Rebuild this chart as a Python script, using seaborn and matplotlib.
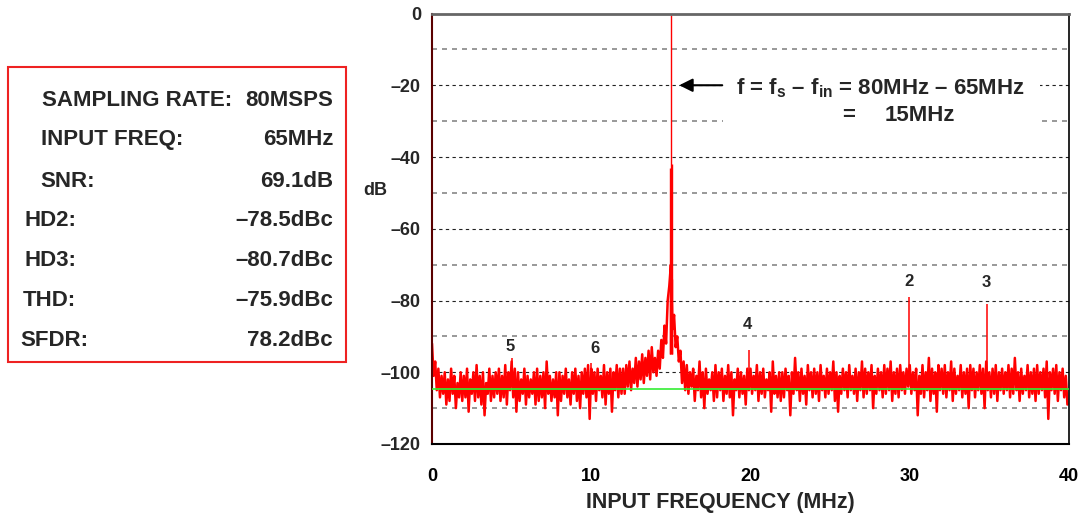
import matplotlib
matplotlib.use('Agg')
import matplotlib.pyplot as plt
from matplotlib import font_manager
from matplotlib.patches import Rectangle
import numpy as np
import pandas as pd
import seaborn as sns

# noise floor: one peak and one dip per 0.2 MHz bin (dB)
floor_peaks = [
    -92, -97, -99, -101, -100, -102, -99, -101, -103, -100,     # 0-2 MHz
    -101, -99, -102, -100, -98, -101, -100, -103, -99, -101,    # 2-4
    -100, -99, -101, -98, -100, -97, -99, -100, -102, -99,      # 4-6
    -101, -102, -100, -99, -101, -100, -97, -101, -102, -100,   # 6-8
    -100, -101, -99, -102, -100, -99, -101, -100, -99, -98,     # 8-10
    -99, -100, -99, -101, -98, -100, -99, -100, -98, -99,       # 10-12
    -99, -98, -97, -99, -96, -97, -95, -96, -94, -93,           # 12-14
    -96, -94, -91, -87, -80, -70, -84, -90, -94, -97,           # 14-16
    -98, -100, -99, -101, -97, -100, -99, -102, -100, -98,      # 16-18
    -100, -99, -101, -98, -100, -102, -99, -100, -101, -99,     # 18-20
    -99, -101, -98, -100, -99, -102, -100, -97, -101, -100,     # 20-22
    -100, -99, -101, -100, -96, -100, -99, -101, -98, -100,     # 22-24
    -99, -100, -98, -101, -99, -100, -97, -100, -101, -99,      # 24-26
    -100, -98, -101, -99, -100, -97, -99, -100, -98, -101,      # 26-28
    -99, -100, -98, -99, -97, -100, -99, -98, -100, -99,        # 28-30
    -98, -100, -99, -101, -98, -100, -96, -99, -100, -98,       # 30-32
    -99, -98, -100, -97, -99, -101, -98, -100, -99, -98,        # 32-34
    -99, -100, -98, -99, -97, -100, -99, -98, -100, -99,        # 34-36
    -100, -98, -99, -96, -100, -99, -101, -98, -100, -99,       # 36-38
    -98, -100, -99, -97, -100, -99, -98, -100, -99, -101,       # 38-40
]
floor_dips = [
    -101, -105, -107, -106, -109, -108, -106, -110, -107, -108,
    -107, -111, -106, -108, -107, -109, -112, -106, -108, -107,
    -106, -108, -107, -109, -105, -107, -111, -108, -106, -109,
    -107, -106, -109, -108, -107, -110, -106, -108, -107, -112,
    -108, -106, -107, -109, -106, -108, -110, -106, -107, -113,
    -106, -108, -105, -107, -109, -106, -111, -105, -107, -106,
    -106, -104, -105, -103, -104, -102, -103, -101, -102, -100,
    -101, -99, -96, -92, -76, -88, -93, -97, -103, -105,
    -106, -104, -108, -105, -107, -110, -106, -105, -108, -107,
    -105, -108, -106, -107, -112, -105, -107, -106, -109, -105,
    -106, -105, -108, -106, -107, -105, -111, -106, -107, -108,
    -107, -105, -112, -106, -105, -108, -106, -109, -105, -107,
    -106, -108, -105, -107, -106, -105, -108, -111, -106, -105,
    -107, -105, -106, -108, -105, -107, -106, -105, -110, -106,
    -105, -107, -106, -105, -108, -106, -107, -105, -106, -104,
    -106, -105, -112, -106, -107, -105, -108, -106, -111, -105,
    -106, -107, -105, -108, -106, -105, -107, -106, -110, -105,
    -107, -105, -106, -110, -105, -107, -106, -108, -105, -106,
    -105, -107, -106, -105, -108, -106, -105, -107, -106, -108,
    -106, -105, -107, -113, -105, -106, -108, -105, -107, -109,
]
bin_mhz = 0.2

# fundamental (aliased to 15 MHz) and its neighbouring bins
carrier_freq = [14.93, 14.96, 15.0, 15.04, 15.07]
carrier_db = [-72, -43, -0.5, -42, -74]

# DC and harmonics
spur_freq = [0.0, 5.05, 10.0, 19.9, 29.97, 34.85]
spur_db = [0.0, -96.0, -97.4, -93.8, -78.9, -81.1]
spur_names = ['', '5', '6', '4', '2', '3']
spur_label_pos = [None, (4.9, -92.9), (10.24, -93.5), (19.78, -86.6),
                  (29.94, -74.6), (34.78, -75.1)]
avg_floor = -104.7

xticks = [0, 10, 20, 30, 40]
yticks = [0, -20, -40, -60, -80, -100, -120]
ytick_labels = ['0', '–20', '–40', '–60', '–80', '–100', '–120']

stats_labels = ['SAMPLING RATE:', 'INPUT FREQ:', 'SNR:', 'HD2:', 'HD3:',
                'THD:', 'SFDR:']
stats_values = ['80MSPS', '65MHz', '69.1dB', '–78.5dBc', '–80.7dBc',
                '–75.9dBc', '78.2dBc']

if __name__ == '__main__':
    sns.set_style('white')
    plt.rcParams['font.family'] = ['Liberation Sans', 'DejaVu Sans']
    plt.rcParams['font.weight'] = 'bold'
    plt.rcParams['mathtext.fontset'] = 'custom'
    plt.rcParams['mathtext.rm'] = 'Liberation Sans:bold'
    plt.rcParams['mathtext.bf'] = 'Liberation Sans:bold'
    plt.rcParams['mathtext.it'] = 'Liberation Sans:bold'

    names = {f.name for f in font_manager.fontManager.ttflist}
    narrow = 'Liberation Sans Narrow' if 'Liberation Sans Narrow' in names \
        else 'Liberation Sans'

    # interleave peaks and dips into one trace
    n = len(floor_peaks)
    freq = np.empty(2 * n)
    db = np.empty(2 * n)
    freq[0::2] = np.arange(n) * bin_mhz
    freq[1::2] = np.arange(n) * bin_mhz + bin_mhz / 2
    db[0::2] = floor_peaks
    db[1::2] = floor_dips
    df = pd.DataFrame({'freq': freq, 'db': db})

    W, H = 1080, 514
    fig = plt.figure(figsize=(W / 100, H / 100), dpi=100)
    ax = fig.add_axes([432 / W, 1 - 444 / H, (1069 - 432) / W, (444 - 13.5) / H])

    # grid: dashed every 10 dB
    for y in range(-110, 0, 10):
        major = y % 20 == 0
        ax.axhline(y, color='#222222' if major else '#888888',
                   lw=0.8 if major else 1.2, ls=(0, (3, 3)), zorder=0.5)

    sns.lineplot(data=df, x='freq', y='db', ax=ax, color='#ff0000',
                 linewidth=1.8, estimator=None, sort=False, zorder=2)
    ax.vlines(spur_freq, -103, spur_db, color='#ff0000', lw=1.1, zorder=2)
    ax.vlines(carrier_freq, -95, carrier_db, color='#ff0000', lw=1.0, zorder=2)
    ax.axhline(avg_floor, color='#33ee33', lw=1.2, zorder=5)

    for name, pos in zip(spur_names, spur_label_pos):
        if name:
            ax.text(pos[0], pos[1], name, ha='center', va='center',
                    fontsize=12, fontweight='bold')

    # annotation with white box over the grid
    ax.add_patch(Rectangle((18.25, -33.5), 19.95, 18, facecolor='white',
                           edgecolor='none', zorder=1))
    ax.annotate('', xy=(15.35, -20), xytext=(18.4, -20),
                arrowprops=dict(arrowstyle='-|>', color='black', lw=1.5,
                                mutation_scale=20), zorder=4)
    ax.text(19.1, -20.8, r'f = f$_{\mathrm{s}}$ – f$_{\mathrm{in}}$ = 80MHz – 65MHz',
            ha='left', va='center', fontsize=16, fontweight='bold', zorder=4)
    ax.text(25.75, -28.3, '=', ha='left', va='center', fontsize=16,
            fontweight='bold', zorder=4)
    ax.text(28.45, -28.3, '15MHz', ha='left', va='center', fontsize=16,
            fontweight='bold', zorder=4)

    ax.set_xlim(0, 40)
    ax.set_ylim(-120, 0)
    ax.set_xticks(xticks)
    ax.set_xticklabels([str(t) for t in xticks])
    ax.set_yticks(yticks)
    ax.set_yticklabels(ytick_labels)
    ax.tick_params(axis='x', direction='inout', length=15, width=1.5,
                   pad=10, labelsize=13, colors='black')
    ax.tick_params(axis='y', length=0, pad=8, labelsize=13)
    for lab in ax.get_xticklabels() + ax.get_yticklabels():
        lab.set_fontfamily([narrow, 'DejaVu Sans'])
        lab.set_fontweight('bold')

    ax.set_xlabel('INPUT FREQUENCY (MHz)', fontsize=15.5, fontweight='bold',
                  labelpad=5, x=0.452)
    ax.set_ylabel('dB', fontsize=13, fontweight='bold', rotation=0,
                  ha='right', va='center')
    ax.yaxis.set_label_coords(-0.07, 0.59)

    ax.spines['top'].set_color('#666666')
    ax.spines['top'].set_linewidth(2)
    ax.spines['right'].set_color('black')
    ax.spines['right'].set_linewidth(1.2)
    ax.spines['bottom'].set_color('black')
    ax.spines['bottom'].set_linewidth(1.5)
    ax.spines['left'].set_color('#5a0000')
    ax.spines['left'].set_linewidth(1.5)

    # measurement summary box
    fig.patches.append(Rectangle((8 / W, 1 - 362 / H), 338 / W, 295 / H,
                                 transform=fig.transFigure, fill=False,
                                 edgecolor='#ee2222', lw=1.5))
    row_y = [100, 140, 181, 221, 260, 300, 340]
    label_x = [42, 41, 40, 24, 24, 23, 20]
    for lab, val, ry, lx in zip(stats_labels, stats_values, row_y, label_x):
        fig.text(lx / W, 1 - ry / H, lab, ha='left', va='center',
                 fontsize=16, fontweight='bold')
        fig.text(333 / W, 1 - ry / H, val, ha='right', va='center',
                 fontsize=16, fontweight='bold')

    plt.savefig('out.png', dpi=100, facecolor='white')
